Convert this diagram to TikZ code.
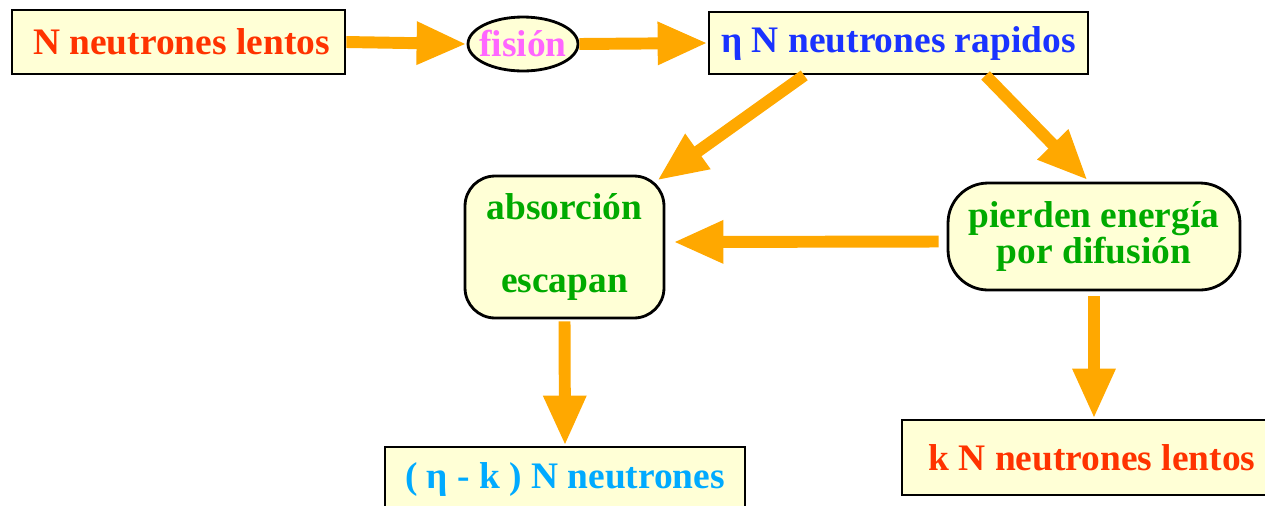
\documentclass[tikz,border=0pt]{standalone}
\usepackage{fontspec}
\setmainfont{Liberation Serif}
\usepackage{xcolor}
\usetikzlibrary{arrows.meta, shapes.geometric, calc}

\definecolor{fondoCaja}{HTML}{FFFFD6}
\definecolor{naranja}{HTML}{FFA800}
\definecolor{rojoLento}{HTML}{FF3300}
\definecolor{azulRapido}{HTML}{1A33FF}
\definecolor{rosaFision}{HTML}{FF66FF}
\definecolor{verdeProc}{HTML}{00AA00}
\definecolor{celeste}{HTML}{00AAFF}

\begin{document}
\begin{tikzpicture}[x=0.02cm,y=-0.02cm,
    caja/.style={draw=black, line width=1.6pt, fill=fondoCaja, inner sep=0pt,
        align=center, font=\fontsize{21.3}{21}\selectfont\bfseries},
    flecha/.style={draw=naranja, line width=6.8pt,
        -{Triangle[length=1cm,width=0.8cm]}}]

        \useasboundingbox (0,0) rectangle (1265,505);

        % Boxes
        \node[caja, minimum width=6.66cm, minimum height=1.28cm, text=rojoLento]
            (lento) at (178.5,42) {\hspace{0.12cm}N neutrones lentos};
        \node[caja, ellipse, minimum width=2.2cm, minimum height=1.08cm, text=rosaFision]
            (fision) at (523,44) {\makebox[1.2cm]{fisión}};
        \node[caja, minimum width=7.58cm, minimum height=1.24cm, text=azulRapido]
            (rapidos) at (898.5,43) {η N neutrones rapidos};
        \node[caja, rounded corners=0.6cm, minimum width=3.98cm, minimum height=2.84cm, text=verdeProc]
            (absor) at (564.5,247) {absorción\\[0.74cm]escapan};
        \node[caja, rounded corners=0.8cm, minimum width=5.84cm, minimum height=2.14cm, text=verdeProc]
            (pierden) at (1094,236.5) {pierden energía\\por difusión};
        \node[caja, minimum width=7.2cm, minimum height=1.28cm, text=celeste]
            (etak) at (565,479) {( η - k ) N neutrones};
        \node[caja, minimum width=7.6cm, minimum height=1.5cm, text=rojoLento]
            (klentos) at (1092,457.5) {k N neutrones lentos};

        % Arrows
        \draw[flecha] (lento.east) -- (fision.west);
        \draw[flecha] (fision.east) -- (rapidos.west);
        \draw[flecha, shorten >=-0.2cm] ($(rapidos.south west)!0.253!(rapidos.south east)$) -- (absor.north east);
        \draw[flecha, shorten >=0.04cm] ($(rapidos.south west)!0.728!(rapidos.south east)$) -- ([xshift=-0.1cm]pierden.north);
        \draw[flecha] ([xshift=-0.16cm,yshift=-0.1cm]pierden.west) -- ([xshift=0.16cm,yshift=0.1cm]absor.east);
        \draw[flecha, shorten <=0.04cm] (absor.south) -- (etak.north);
        \draw[flecha, shorten <=0.1cm] (pierden.south) -- (pierden.south |- klentos.north);

\end{tikzpicture}
\end{document}
